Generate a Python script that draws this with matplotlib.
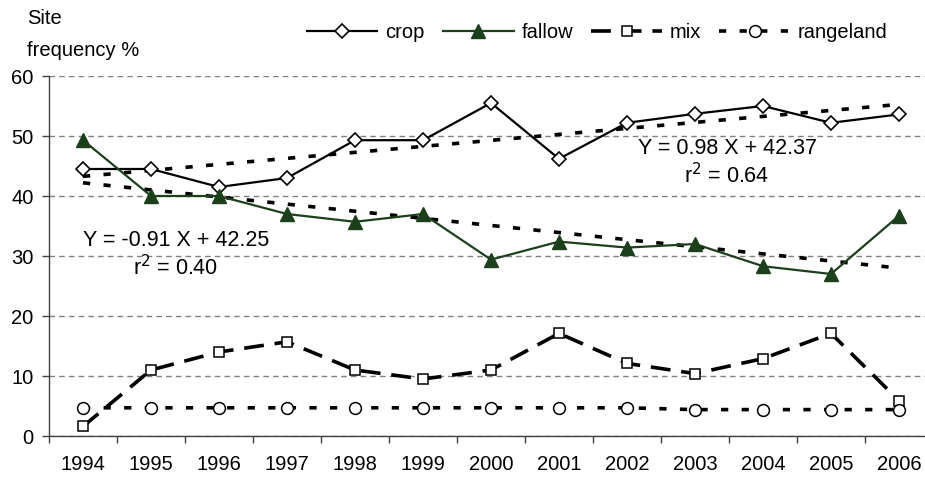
import numpy as np
import matplotlib
matplotlib.use("Agg")
import matplotlib.pyplot as plt
from matplotlib.ticker import MultipleLocator, FixedLocator

plt.rcParams['font.family'] = ['Liberation Sans', 'DejaVu Sans']

years = ['1994', '1995', '1996', '1997', '1998', '1999', '2000',
         '2001', '2002', '2003', '2004', '2005', '2006']
crop = [44.5, 44.5, 41.5, 43.0, 49.3, 49.3, 55.5, 46.2, 52.2, 53.7, 55.0, 52.2, 53.6]
fallow = [49.3, 40.0, 40.0, 37.0, 35.7, 37.0, 29.4, 32.4, 31.4, 32.0, 28.3, 27.0, 36.7]
mix = [1.6, 11.0, 14.0, 15.7, 11.0, 9.5, 11.0, 17.1, 12.1, 10.4, 12.9, 17.1, 5.9]
rangeland = [4.7, 4.7, 4.7, 4.7, 4.7, 4.7, 4.7, 4.7, 4.7, 4.4, 4.4, 4.4, 4.4]
eq_crop = ["Y = 0.98 X + 42.37", "r$^2$ = 0.64"]
eq_fallow = ["Y = -0.91 X + 42.25", "r$^2$ = 0.40"]

W, H = 925, 479
fig = plt.figure(figsize=(W / 100, H / 100), dpi=100)
ax = fig.add_axes([49 / W, (H - 436) / H, (933 - 49) / W, 360 / H])

x = np.arange(len(years))
green = '#1c3f1c'
dot = (0, (2.0, 3.7))

# trend lines (linear fits of the series)
for series in (crop, fallow):
    p = np.polyfit(x + 1, series, 1)
    ax.plot(x, np.polyval(p, x + 1), color='black', lw=2.6, linestyle=dot,
            dash_capstyle='butt', zorder=3)

ax.plot(x, crop, color='black', lw=1.6, marker='D', ms=7, mfc='white',
        mec='black', mew=1.2, label='crop', zorder=5)
ax.plot(x, fallow, color=green, lw=1.6, marker='^', ms=10, mfc=green,
        mec=green, label='fallow', zorder=5)
ax.plot(x, mix, color='black', lw=2.6, linestyle=(0, (5.5, 3.0)),
        dash_capstyle='butt', marker='s', ms=6.5, mfc='white', mec='black',
        mew=1.1, label='mix', zorder=4)
ax.plot(x, rangeland, color='black', lw=2.6, linestyle=dot,
        dash_capstyle='butt', marker='o', ms=8.5, mfc='white', mec='black',
        mew=1.1, label='rangeland', zorder=4)

ax.set_xlim(-0.5, len(years) - 0.5)
ax.set_ylim(0, 60)
ax.yaxis.set_major_locator(MultipleLocator(10))
ax.set_xticks(x)
ax.set_xticklabels(years)
ax.xaxis.set_minor_locator(FixedLocator(np.arange(-0.5, len(years), 1.0)))
ax.tick_params(axis='x', which='major', length=0, pad=14, labelsize=14.5)
ax.tick_params(axis='x', which='minor', length=5, width=1, color='#404040',
               direction='out')
ax.tick_params(axis='y', length=5, width=1, color='#404040', pad=6,
               labelsize=14.5)

ax.grid(axis='y', color='#808080', lw=1, linestyle=(0, (4, 3)))
ax.set_axisbelow(True)
for s in ('top', 'right'):
    ax.spines[s].set_visible(False)
for s in ('left', 'bottom'):
    ax.spines[s].set_color('#404040')
    ax.spines[s].set_linewidth(1)

fig.text(27 / W, 1 - 18 / H, 'Site', fontsize=14.5, ha='left', va='center')
fig.text(27 / W, 1 - 50 / H, 'frequency %', fontsize=14.5, ha='left', va='center')

fig.text(176 / W, 1 - 241 / H, eq_fallow[0], fontsize=15.5, ha='center', va='center')
fig.text(176 / W, 1 - 268 / H, eq_fallow[1], fontsize=15.5, ha='center', va='center')
fig.text(727 / W, 1 - 149 / H, eq_crop[0], fontsize=15.5, ha='center', va='center')
fig.text(727 / W, 1 - 176 / H, eq_crop[1], fontsize=15.5, ha='center', va='center')

handles, labels = ax.get_legend_handles_labels()
fig.legend(handles, labels, loc='center left', ncol=4, frameon=False,
           bbox_to_anchor=(307 / W, 1 - 33 / H), fontsize=14.5,
           handlelength=3.5, handletextpad=0.4, columnspacing=0.9,
           borderpad=0, borderaxespad=0)

fig.savefig('out.png', dpi=100)
